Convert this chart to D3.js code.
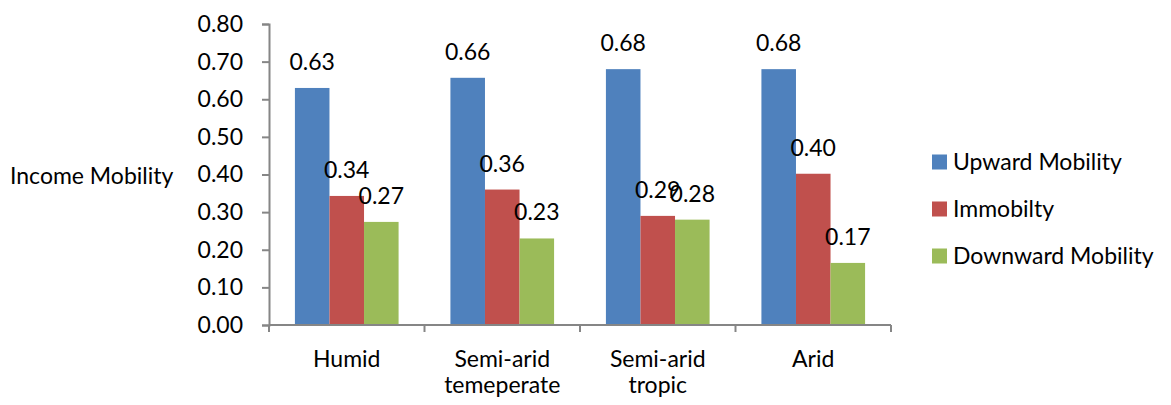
<!DOCTYPE html>
<html><head><meta charset="utf-8">
<script src="https://cdn.jsdelivr.net/npm/d3@7"></script>
<style>body{margin:0;background:#fff}svg{display:block}</style>
</head><body>
<svg id="c" width="1171" height="405"></svg>
<script>
const categories = [["Humid"], ["Semi-arid", "temeperate"], ["Semi-arid", "tropic"], ["Arid"]];
const seriesNames = ["Upward Mobility", "Immobilty", "Downward Mobility"];
const upward = [0.63, 0.657, 0.68, 0.68];
const immobility = [0.343, 0.36, 0.29, 0.402];
const downward = [0.274, 0.23, 0.28, 0.165];
const yTicks = [0, 0.1, 0.2, 0.3, 0.4, 0.5, 0.6, 0.7, 0.8];
const colors = ["#4F81BD", "#C0504D", "#9BBB59"];
const series = [upward, immobility, downward];

const font = "Lato, 'Open Sans', sans-serif";
const fs = 23;
const svg = d3.select("#c");
const x0 = d3.scaleBand().domain(d3.range(categories.length)).range([269, 891]).paddingInner(0).paddingOuter(0);
const x1 = d3.scaleBand().domain(d3.range(series.length)).range([0, x0.bandwidth()]).paddingOuter(0.75).paddingInner(0);
const y = d3.scaleLinear().domain([0, 0.8]).range([325, 24]);
const axisColor = "#868686";

// bars
series.forEach((vals, si) => {
  svg.append("g").selectAll("rect").data(vals).join("rect")
    .attr("x", (d, i) => x0(i) + x1(si))
    .attr("width", x1.bandwidth())
    .attr("y", d => y(d))
    .attr("height", d => y(0) - y(d))
    .attr("fill", colors[si]);
});

// y axis
const ya = svg.append("g").attr("transform", "translate(269,0)")
  .call(d3.axisLeft(y).tickValues(yTicks).tickSize(7).tickPadding(19).tickFormat(d3.format(".2f")));
ya.select(".domain").attr("stroke", axisColor).attr("stroke-width", 2);
ya.selectAll(".tick line").attr("stroke", axisColor).attr("stroke-width", 2);
ya.selectAll(".tick text").attr("font-family", font).attr("font-size", fs).attr("fill", "#000");

// x axis
const xa = svg.append("g").attr("transform", "translate(0,325)");
xa.append("line").attr("x1", 269).attr("x2", 891).attr("stroke", axisColor).attr("stroke-width", 2);
const bounds = d3.range(categories.length + 1).map(i => i < categories.length ? x0(i) : x0(i - 1) + x0.bandwidth());
xa.selectAll("line.t").data(bounds).join("line").attr("class", "t")
  .attr("x1", d => d).attr("x2", d => d).attr("y1", 0).attr("y2", 7)
  .attr("stroke", axisColor).attr("stroke-width", 2);
categories.forEach((lines, i) => {
  lines.forEach((l, j) => {
    svg.append("text").attr("font-family", font).attr("font-size", fs).attr("text-anchor", "middle")
      .attr("x", x0(i) + x0.bandwidth() / 2).attr("y", 367 + j * 26).text(l);
  });
});

// value labels
series.forEach((vals, si) => {
  svg.append("g").selectAll("text").data(vals).join("text")
    .attr("x", (d, i) => x0(i) + x1(si) + x1.bandwidth() / 2)
    .attr("y", d => y(d) - 18)
    .attr("text-anchor", "middle")
    .attr("font-family", font).attr("font-size", fs).attr("fill", "#000")
    .text(d => d3.format(".2f")(d));
});

// y title
svg.append("text").attr("x", 10).attr("y", 184).attr("font-family", font).attr("font-size", fs).text("Income Mobility");

// legend
const lg = svg.append("g");
seriesNames.forEach((n, i) => {
  const cy = 162 + i * 47;
  lg.append("rect").attr("x", 932).attr("y", cy - 7.5).attr("width", 15).attr("height", 15).attr("fill", colors[i]);
  lg.append("text").attr("x", 953).attr("y", cy + 8).attr("font-family", font).attr("font-size", fs).text(n);
});
</script>
</body></html>
